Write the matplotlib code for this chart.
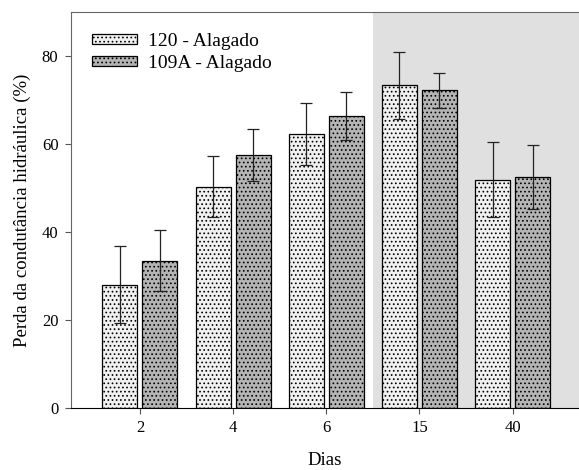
import matplotlib.pyplot as plt
import numpy as np

plt.rcParams['font.family'] = ['Liberation Serif', 'DejaVu Serif']
plt.rcParams['hatch.color'] = '#303030'
plt.rcParams['hatch.linewidth'] = 0.7

dias = ['2', '4', '6', '15', '40']
v120 = [28.0, 50.3, 62.2, 73.3, 51.9]
e120 = [8.8, 7.0, 7.0, 7.6, 8.6]
v109 = [33.5, 57.5, 66.3, 72.2, 52.5]
e109 = [7.0, 6.0, 5.5, 4.0, 7.2]

x = np.arange(len(dias))
w = 0.375
off = 0.215

fig = plt.figure(figsize=(5.79, 4.70), dpi=100)
ax = fig.add_axes([0.1226, 0.132, 0.877, 0.8426])

ax.axvspan(2.5, 5, color='#e0e0e0', lw=0, zorder=0)

ax.bar(x - off, v120, w, color='#f0f0f0', edgecolor='black', hatch='....',
       lw=0.9, label='120 - Alagado', zorder=2)
ax.bar(x + off, v109, w, color='#b4b4b4', edgecolor='black', hatch='....',
       lw=0.9, label='109A - Alagado', zorder=2)
ax.errorbar(x - off, v120, yerr=e120, fmt='none', ecolor='#222222', elinewidth=0.9,
            capsize=4, capthick=0.9, zorder=3)
ax.errorbar(x + off, v109, yerr=e109, fmt='none', ecolor='#222222', elinewidth=0.9,
            capsize=4, capthick=0.9, zorder=3)

ax.set_xlim(-0.74, 4.71)
ax.set_ylim(0, 90)
ax.set_xticks(x)
ax.set_xticklabels(dias)
ax.set_yticks([0, 20, 40, 60, 80])
ax.tick_params(direction='out', length=4, labelsize=12, color='#555555', pad=5)
ax.spines['right'].set_visible(False)
for s in ['left', 'bottom', 'top']:
    ax.spines[s].set_color('#666666')
ax.spines['bottom'].set_color('black')

ax.set_xlabel('Dias', fontsize=13.5, labelpad=11)
ax.set_ylabel('Perda da condutância hidráulica (%)', fontsize=13.5, labelpad=8)

ax.legend(loc='upper left', frameon=False, fontsize=14, handlelength=2.3,
          handleheight=0.4, handletextpad=0.55, labelspacing=0.25,
          bbox_to_anchor=(0.0, 1.0), borderaxespad=0.7)

fig.savefig('out.png', dpi=100)
